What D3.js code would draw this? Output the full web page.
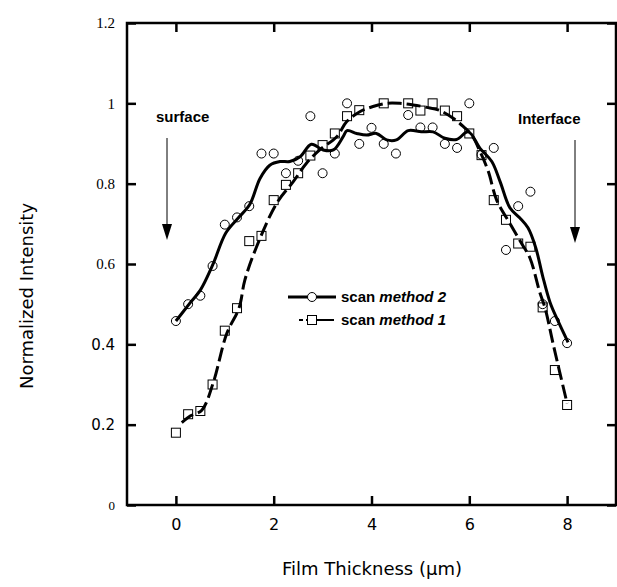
<!DOCTYPE html>
<html>
<head>
<meta charset="utf-8">
<script src="https://cdn.jsdelivr.net/npm/d3@7"></script>
<style>
  html, body { margin: 0; padding: 0; background: #fff; }
  svg { display: block; }
</style>
</head>
<body>
<svg id="chart" width="617" height="587"></svg>
<script>
// Sample positions across the film (µm)
const thickness = [0, 0.25, 0.5, 0.75, 1, 1.25, 1.5, 1.75, 2, 2.25, 2.5, 2.75, 3, 3.25, 3.5, 3.75,
                   4, 4.25, 4.5, 4.75, 5, 5.25, 5.5, 5.75, 6, 6.25, 6.5, 6.75, 7, 7.25, 7.5, 7.75, 8];

// scan method 2 (circles)
const method2 = [0.458, 0.50, 0.521, 0.595, 0.698, 0.716, 0.744, 0.875, 0.875, 0.826, 0.857, 0.968,
                 0.826, 0.875, 1.0, 0.899, 0.939, 0.899, 0.875, 0.971, 0.940, 0.940, 0.899, 0.889,
                 1.0, 0.872, 0.889, 0.635, 0.744, 0.780, 0.50, 0.458, 0.403];

// scan method 1 (squares); null where no sample was recorded
const method1 = [0.18, 0.226, 0.234, 0.30, 0.434, 0.49, 0.657, 0.670, 0.759, 0.797, 0.826, 0.870,
                 0.896, 0.925, 0.968, 0.983, null, 1.0, null, 1.0, 0.982, 1.0, 0.982, 0.968,
                 0.925, 0.871, 0.759, 0.71, 0.651, 0.643, 0.492, 0.336, 0.249];

// Smoothed profile through the method 2 scan
const fit2X = [0, 0.27, 0.5, 0.75, 1.02, 1.27, 1.51, 1.72, 1.92, 2.13, 2.33, 2.54, 2.77, 3.01, 3.22,
               3.42, 3.5, 3.7, 3.9, 4.1, 4.31, 4.51, 4.75, 5.02, 5.26, 5.5, 5.74, 5.98, 6.22, 6.46,
               6.63, 6.83, 7.03, 7.2, 7.36, 7.5, 7.65, 7.8, 8.02];
const fit2Y = [0.458, 0.50, 0.535, 0.597, 0.677, 0.714, 0.748, 0.813, 0.846, 0.855, 0.855, 0.867,
               0.898, 0.884, 0.884, 0.917, 0.932, 0.925, 0.921, 0.925, 0.909, 0.909, 0.932, 0.929,
               0.929, 0.913, 0.910, 0.929, 0.888, 0.855, 0.805, 0.740, 0.715, 0.690, 0.640, 0.570,
               0.505, 0.462, 0.405];

// Smoothed profile through the method 1 scan
const fit1X = [0.12, 0.3, 0.53, 0.76, 1.04, 1.29, 1.41, 1.65, 2.06, 2.4, 2.67, 2.94, 3.29, 3.49,
               3.76, 4.03, 4.31, 4.58, 4.85, 5.13, 5.4, 5.67, 5.88, 6.05, 6.22, 6.39, 6.56, 6.83,
               7.07, 7.24, 7.44, 7.55, 7.72, 8.0];
const fit1Y = [0.205, 0.222, 0.236, 0.303, 0.427, 0.49, 0.56, 0.643, 0.751, 0.805, 0.851, 0.884,
               0.917, 0.954, 0.979, 0.992, 1.0, 1.0, 0.996, 0.99, 0.982, 0.963, 0.942, 0.921,
               0.88, 0.83, 0.759, 0.701, 0.651, 0.615, 0.53, 0.49, 0.398, 0.253];

const xTicks = [0, 2, 4, 6, 8];
const yTicks = [0, 0.2, 0.4, 0.6, 0.8, 1, 1.2];
const legendLabels = [["scan ", "method 2"], ["scan ", "method 1"]];

const svg = d3.select("#chart");
const x = d3.scaleLinear().domain([-1, 9]).range([127, 616]);
const y = d3.scaleLinear().domain([0, 1.2]).range([505, 23]);

const serif = "'Liberation Serif', 'Times New Roman', serif";
const sans = "'DejaVu Sans', Verdana, sans-serif";
const arial = "'Liberation Sans', Arial, sans-serif";

// Frame with inward ticks on all four sides
const fmtY = d => d === 0 ? "0" : d3.format("~g")(d);
const gx = svg.append("g").attr("transform", `translate(0,${y(0)})`)
  .call(d3.axisBottom(x).tickValues(xTicks).tickSize(-9).tickPadding(14).tickSizeOuter(0));
gx.selectAll("text").attr("font-family", sans).attr("font-size", 16).attr("fill", "#000");

svg.append("g").attr("transform", `translate(0,${y(1.2)})`)
  .call(d3.axisTop(x).tickValues(xTicks).tickSize(-9).tickFormat("").tickSizeOuter(0));

const gy = svg.append("g").attr("transform", `translate(${x(-1)},0)`)
  .call(d3.axisLeft(y).tickValues(yTicks).tickSize(-9).tickPadding(12).tickFormat(fmtY).tickSizeOuter(0));
gy.selectAll("text")
  .attr("font-family", d => (d === 0.2 || d === 0.4) ? sans : serif)
  .attr("font-size", d => d === 0 ? 13 : 15)
  .attr("fill", "#000");

svg.append("g").attr("transform", `translate(${x(9)},0)`)
  .call(d3.axisRight(y).tickValues(yTicks).tickSize(-9).tickFormat("").tickSizeOuter(0));

svg.selectAll(".domain").attr("stroke", "none");
svg.selectAll(".tick line").attr("stroke", "#000").attr("stroke-width", 2.5);

svg.append("rect")
  .attr("x", x(-1)).attr("y", y(1.2))
  .attr("width", x(9) - x(-1)).attr("height", y(0) - y(1.2))
  .attr("fill", "none").attr("stroke", "#000").attr("stroke-width", 2.5);

// Smoothed profiles
const line = d3.line().x(d => x(d[0])).y(d => y(d[1])).curve(d3.curveCatmullRom.alpha(0.5));
svg.append("path")
  .attr("d", line(fit2X.map((v, i) => [v, fit2Y[i]])))
  .attr("fill", "none").attr("stroke", "#000").attr("stroke-width", 3);
svg.append("path")
  .attr("d", line(fit1X.map((v, i) => [v, fit1Y[i]])))
  .attr("fill", "none").attr("stroke", "#000").attr("stroke-width", 3)
  .attr("stroke-dasharray", "14,5");

// Measured points
svg.append("g").selectAll("circle")
  .data(thickness.map((t, i) => [t, method2[i]]))
  .join("circle")
  .attr("cx", d => x(d[0])).attr("cy", d => y(d[1])).attr("r", 4.5)
  .attr("fill", "none").attr("stroke", "#000").attr("stroke-width", 1);

svg.append("g").selectAll("rect")
  .data(thickness.map((t, i) => [t, method1[i]]).filter(d => d[1] !== null))
  .join("rect")
  .attr("x", d => x(d[0]) - 4.5).attr("y", d => y(d[1]) - 4.5)
  .attr("width", 9).attr("height", 9)
  .attr("fill", "none").attr("stroke", "#000").attr("stroke-width", 1);

// Surface / interface markers
function arrowDown(cx, y0, y1) {
  svg.append("line").attr("x1", cx).attr("x2", cx).attr("y1", y0).attr("y2", y1 - 14)
    .attr("stroke", "#000").attr("stroke-width", 1);
  svg.append("path")
    .attr("d", `M${cx - 5},${y1 - 16} L${cx + 5},${y1 - 16} L${cx},${y1} Z`)
    .attr("fill", "#000");
}
svg.append("text").attr("x", 156).attr("y", 122).text("surface")
  .attr("font-family", arial).attr("font-weight", "bold").attr("font-size", 15);
arrowDown(167, 138, 240);
svg.append("text").attr("x", 518).attr("y", 124).text("Interface")
  .attr("font-family", arial).attr("font-weight", "bold").attr("font-size", 15);
arrowDown(575, 140, 243);

// Legend
const legY = [297, 320];
svg.append("line").attr("x1", 288).attr("x2", 336).attr("y1", legY[0]).attr("y2", legY[0])
  .attr("stroke", "#000").attr("stroke-width", 3);
svg.append("circle").attr("cx", 312).attr("cy", legY[0]).attr("r", 4.5)
  .attr("fill", "#fff").attr("stroke", "#000");
svg.append("line").attr("x1", 299).attr("x2", 334).attr("y1", legY[1]).attr("y2", legY[1])
  .attr("stroke", "#000").attr("stroke-width", 2).attr("stroke-dasharray", "4,3,30");
svg.append("rect").attr("x", 307.5).attr("y", legY[1] - 4.5).attr("width", 9).attr("height", 9)
  .attr("fill", "#fff").attr("stroke", "#000");
legendLabels.forEach((lab, i) => {
  const t = svg.append("text").attr("x", 341).attr("y", legY[i] + 5)
    .attr("font-family", arial).attr("font-weight", "bold").attr("font-size", 15);
  t.append("tspan").text(lab[0]);
  t.append("tspan").attr("font-style", "italic").text(lab[1]);
});

// Axis titles
svg.append("text").attr("x", 372).attr("y", 575).attr("text-anchor", "middle")
  .attr("font-family", sans).attr("font-size", 18).text("Film Thickness (μm)");
svg.append("text")
  .attr("transform", `translate(33,${(y(0) + y(1.2)) / 2 + 32}) rotate(-90)`)
  .attr("text-anchor", "middle")
  .attr("font-family", sans).attr("font-size", 18).text("Normalized Intensity");
</script>
</body>
</html>
